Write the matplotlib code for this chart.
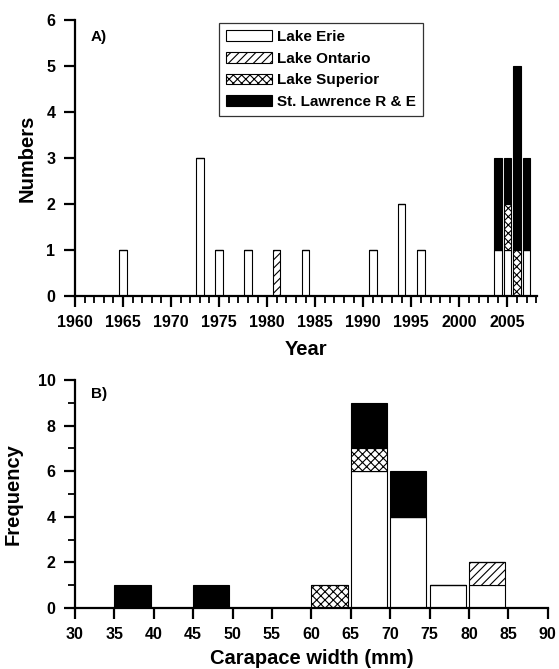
import matplotlib.pyplot as plt
import numpy as np

plt.rcParams["font.family"] = ["Liberation Sans", "DejaVu Sans"]
plt.rcParams["font.weight"] = "bold"
plt.rcParams["hatch.linewidth"] = 0.8

# Panel A: records per year by water body
years = [1965, 1973, 1975, 1978, 1981, 1984, 1991, 1994, 1996, 2004, 2005, 2006, 2007]
erie_yr = [1, 3, 1, 1, 0, 1, 1, 2, 1, 1, 1, 0, 1]
ontario_yr = [0, 0, 0, 0, 1, 0, 0, 0, 0, 0, 0, 0, 0]
superior_yr = [0, 0, 0, 0, 0, 0, 0, 0, 0, 0, 1, 1, 0]
stlaw_yr = [0, 0, 0, 0, 0, 0, 0, 0, 0, 2, 1, 4, 2]

# Panel B: carapace width classes (left edge of bin)
width_bins = [35, 45, 60, 65, 70, 75, 80]
erie_w = [0, 0, 0, 6, 4, 1, 1]
ontario_w = [0, 0, 0, 0, 0, 0, 1]
superior_w = [0, 0, 1, 1, 0, 0, 0]
stlaw_w = [1, 1, 0, 2, 2, 0, 0]

year_ticks = list(range(1960, 2006, 5))
width_ticks = list(range(30, 91, 5))
freq_ticks = list(range(0, 11, 2))
num_ticks = list(range(0, 7))

series_labels = ["Lake Erie", "Lake Ontario", "Lake Superior", "St. Lawrence R & E"]
styles = [
    dict(color="white", hatch=None),
    dict(color="white", hatch="////"),
    dict(color="white", hatch="xxxx"),
    dict(color="black", hatch=None),
]


def stacked(ax, x, series, width, align):
    bottom = np.zeros(len(x))
    handles = []
    for vals, st, lab in zip(series, styles, series_labels):
        vals = np.array(vals, dtype=float)
        h = ax.bar(x, vals, width, bottom=bottom, align=align, color=st["color"],
                   hatch=st["hatch"], edgecolor="black", linewidth=0.8, label=lab)
        handles.append(h)
        bottom += vals
    return handles


def style_axes(ax, xt, yt):
    ax.set_xticks(xt, [str(t) for t in xt], fontweight="bold", fontsize=11.5)
    ax.set_yticks(yt, [str(t) for t in yt], fontweight="bold", fontsize=11.5)
    ax.spines["top"].set_visible(False)
    ax.spines["right"].set_visible(False)
    ax.spines["left"].set_linewidth(1.6)
    ax.spines["bottom"].set_linewidth(1.6)
    ax.tick_params(which="major", direction="out", length=8, width=1.6, pad=6)
    ax.tick_params(which="minor", direction="out", length=5, width=1.3)


fig = plt.figure(figsize=(5.59, 6.69), dpi=100)

ax = fig.add_axes([0.134, 0.5575, 0.827, 0.4125])
handles = stacked(ax, years, [erie_yr, ontario_yr, superior_yr, stlaw_yr], 0.78, "center")
ax.set_xlim(1960, 2008.1)
ax.set_ylim(0, 6)
style_axes(ax, year_ticks, num_ticks)
ax.set_xticks(np.arange(1960, 2009, 1), minor=True)
ax.set_xlabel("Year", fontsize=14.5, fontweight="bold", labelpad=7)
ax.set_ylabel("Numbers", fontsize=14.5, fontweight="bold", labelpad=7)
ax.text(0.035, 0.965, "A)", transform=ax.transAxes, fontsize=11, fontweight="bold", va="top")
leg = ax.legend(handles=handles, loc="upper left", bbox_to_anchor=(0.305, 1.0),
                prop={"size": 11, "weight": "bold"}, frameon=True, fancybox=False,
                edgecolor="black", handlelength=3.0, handleheight=0.7, handletextpad=0.35,
                labelspacing=0.5, borderpad=0.45, borderaxespad=0.2)
leg.get_frame().set_linewidth(0.9)

bx = fig.add_axes([0.134, 0.0912, 0.846, 0.3408])
stacked(bx, width_bins, [erie_w, ontario_w, superior_w, stlaw_w], 4.6, "edge")
bx.set_xlim(30, 90)
bx.set_ylim(0, 10)
style_axes(bx, width_ticks, freq_ticks)
bx.set_yticks(np.arange(0, 11, 1), minor=True)
bx.set_xlabel("Carapace width (mm)", fontsize=14.5, fontweight="bold", labelpad=5)
bx.set_ylabel("Frequency", fontsize=14.5, fontweight="bold", labelpad=11)
bx.text(0.035, 0.97, "B)", transform=bx.transAxes, fontsize=11, fontweight="bold", va="top")

fig.savefig("out.png", dpi=100)
